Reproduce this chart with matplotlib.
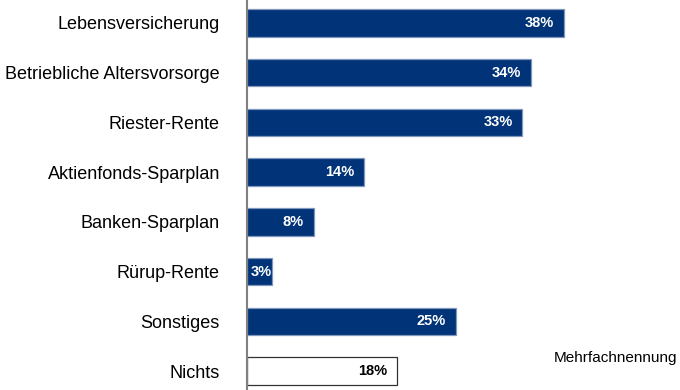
import matplotlib.pyplot as plt

plt.rcParams['font.family'] = ['Liberation Sans', 'DejaVu Sans']

# Daten
kategorien = ['Lebensversicherung', 'Betriebliche Altersvorsorge', 'Riester-Rente',
              'Aktienfonds-Sparplan', 'Banken-Sparplan', 'Rürup-Rente',
              'Sonstiges', 'Nichts']
werte = [38, 34, 33, 14, 8, 3, 25, 18]
hinweis = 'Mehrfachnennung'

navy = '#003377'

fig = plt.figure(figsize=(6.8, 3.9), dpi=100)
ax = fig.add_axes([247 / 680, 0, 1 - 247 / 680, 1])

y = list(range(len(kategorien)))
farben = [navy] * (len(werte) - 1) + ['white']
kanten = ['#7f96bd'] * (len(werte) - 1) + ['#333333']
ax.barh(y, werte, height=0.55, color=farben, edgecolor=kanten, linewidth=0.9)

for i, (w, f) in enumerate(zip(werte, farben)):
    txt_col = 'white' if f == navy else 'black'
    off = -7 if w >= 5 else 0
    ax.annotate(f'{w}%', xy=(w, i), xytext=(off, 0), textcoords='offset points',
                ha='right', va='center', fontsize=10.5, fontweight='bold', color=txt_col)

ax.set_xlim(0, 433 / 8.34)
ax.set_ylim(7.381, -0.46)
ax.set_yticks(y)
ax.set_yticklabels(kategorien, fontsize=13)
ax.tick_params(axis='y', length=0, pad=19.5)
ax.set_xticks([])
for s in ['top', 'right', 'bottom']:
    ax.spines[s].set_visible(False)
ax.spines['left'].set_color('#808080')
ax.spines['left'].set_linewidth(1.5)

fig.text(677 / 680, 1 - 358 / 390, hinweis, ha='right', va='center', fontsize=11)

fig.savefig('out.png', dpi=100)
